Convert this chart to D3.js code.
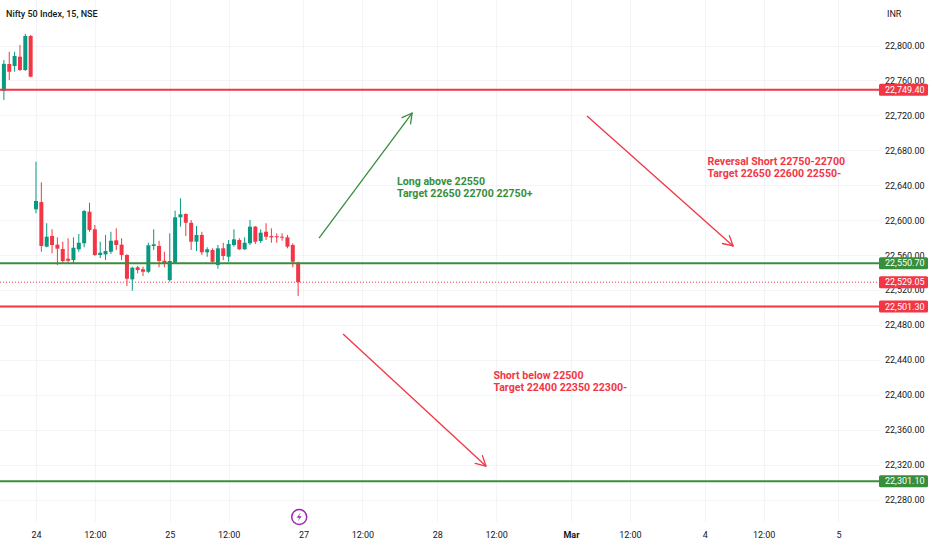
<!DOCTYPE html>
<html>
<head>
<meta charset="utf-8">
<script src="https://cdn.jsdelivr.net/npm/d3@7"></script>
<style>
  body { margin: 0; background: #ffffff; }
  text { font-family: Roboto, "Noto Sans", sans-serif; }
</style>
</head>
<body>
<div id="chart"></div>
<script>
// price levels on the right axis
var priceTicks = [22280, 22320, 22360, 22400, 22440, 22480, 22520, 22560, 22600, 22640, 22680, 22720, 22760, 22800];

// bottom axis: bar index (15 min bars, 25 per session) and label
var timeTicks = [
  [0, "24"], [11, "12:00"], [25, "25"], [36, "12:00"], [50, "27"], [61, "12:00"],
  [75, "28"], [86, "12:00"], [100, "Mar"], [111, "12:00"], [125, "4"], [136, "12:00"], [150, "5"]
];

// candles: open, high, low, close  (first one is bar -6)
var firstBar = -6;
var candles = [
  [22748.0, 22783.4, 22737.6, 22779.0],
  [22778.8, 22792.9, 22760.5, 22770.0],
  [22776.5, 22792.9, 22770.0, 22788.0],
  [22787.2, 22800.6, 22770.8, 22772.0],
  [22772.0, 22813.2, 22770.8, 22810.9],
  [22810.9, 22812.0, 22763.6, 22764.3],
  // 24 Feb
  [22612.5, 22667.0, 22607.9, 22622.0],
  [22620.8, 22643.4, 22563.9, 22570.5],
  [22569.7, 22596.5, 22569.0, 22581.1],
  [22581.9, 22589.6, 22562.1, 22571.6],
  [22572.0, 22580.4, 22548.7, 22567.4],
  [22567.0, 22575.4, 22551.3, 22553.3],
  [22555.9, 22579.3, 22551.0, 22553.6],
  [22554.4, 22580.4, 22550.7, 22568.5],
  [22566.7, 22584.2, 22563.9, 22574.2],
  [22573.6, 22611.7, 22569.0, 22610.5],
  [22609.7, 22620.0, 22586.8, 22588.8],
  [22589.6, 22594.5, 22559.0, 22560.2],
  [22560.2, 22575.4, 22556.7, 22562.8],
  [22560.9, 22583.1, 22554.4, 22564.7],
  [22563.9, 22586.8, 22561.3, 22576.5],
  [22577.0, 22590.7, 22565.9, 22571.6],
  [22572.0, 22579.3, 22554.4, 22560.2],
  [22560.2, 22561.0, 22524.7, 22533.0],
  [22532.3, 22546.8, 22519.3, 22545.6],
  [22546.1, 22547.6, 22539.2, 22543.0],
  [22543.8, 22546.8, 22536.1, 22541.0],
  [22541.0, 22574.2, 22539.6, 22571.3],
  [22570.5, 22589.6, 22565.9, 22572.4],
  [22570.5, 22576.5, 22546.1, 22553.3],
  [22553.6, 22563.9, 22546.1, 22549.9],
  // 25 Feb
  [22531.5, 22585.0, 22529.6, 22553.3],
  [22551.4, 22610.9, 22549.9, 22603.3],
  [22603.3, 22625.1, 22592.6, 22606.8],
  [22607.1, 22607.9, 22581.9, 22597.1],
  [22597.1, 22600.2, 22565.9, 22575.4],
  [22575.4, 22593.4, 22564.7, 22583.1],
  [22583.1, 22586.8, 22560.2, 22563.3],
  [22563.3, 22569.0, 22558.2, 22566.7],
  [22565.9, 22567.8, 22551.4, 22552.5],
  [22548.7, 22571.6, 22544.5, 22567.8],
  [22567.8, 22574.2, 22554.4, 22559.0],
  [22558.2, 22577.3, 22552.5, 22572.8],
  [22571.6, 22589.6, 22569.7, 22578.1],
  [22577.3, 22579.3, 22565.9, 22566.7],
  [22566.7, 22580.4, 22565.9, 22574.2],
  [22573.6, 22600.2, 22571.6, 22592.6],
  [22592.6, 22593.4, 22572.8, 22575.4],
  [22576.2, 22589.6, 22574.0, 22585.7],
  [22586.8, 22596.5, 22577.3, 22581.1],
  [22581.9, 22590.7, 22574.2, 22580.4],
  [22581.6, 22585.0, 22574.2, 22580.4],
  [22581.1, 22585.0, 22576.5, 22580.0],
  [22580.4, 22583.1, 22567.8, 22569.7],
  [22571.6, 22573.6, 22546.1, 22552.5],
  [22551.4, 22552.5, 22513.2, 22529.05]
];

// horizontal levels drawn on the chart
var levels = [
  { price: 22749.40, color: "#f23645" },
  { price: 22550.70, color: "#388e3c" },
  { price: 22501.30, color: "#f23645" },
  { price: 22301.10, color: "#388e3c" }
];
var lastPrice = 22529.05;

// arrows: [bar, price] -> [bar, price]
var arrows = [
  { from: [52.9, 22579.6], to: [70.3, 22722.7], color: "#388e3c" },
  { from: [103.0, 22719.3], to: [130.3, 22570.5], color: "#f23645" },
  { from: [57.4, 22469.7], to: [84.1, 22318.6], color: "#f23645" }
];

// text notes
var notes = [
  { bar: 67.5, price: 22644.9, color: "#388e3c", lines: ["Long above 22550", "Target 22650 22700 22750+"] },
  { bar: 125.5, price: 22667.8, color: "#f23645", lines: ["Reversal Short 22750-22700", "Target 22650 22600 22550-"] },
  { bar: 85.5, price: 22422.8, color: "#f23645", lines: ["Short below 22500", "Target 22400 22350 22300-"] }
];

var upColor = "#089981", downColor = "#f23645", gridColor = "#f2f4f8";

var largura = 880, altura = 522;

var svg = d3.select("#chart").append("svg")
  .attr("width", 932)
  .attr("height", 550);

var xScale = d3.scaleLinear().domain([-6.73, 157.76]).range([0, largura]);
var yScale = d3.scaleLinear().domain([22254.5, 22852.1]).range([altura, 0]);

// grid
svg.append("g").selectAll("line").data(priceTicks).enter().append("line")
  .attr("x1", 0).attr("x2", largura)
  .attr("y1", function(d) { return Math.round(yScale(d)) + 0.5; })
  .attr("y2", function(d) { return Math.round(yScale(d)) + 0.5; })
  .attr("stroke", gridColor);

svg.append("g").selectAll("line").data(timeTicks).enter().append("line")
  .attr("x1", function(d) { return Math.round(xScale(d[0])) + 0.5; })
  .attr("x2", function(d) { return Math.round(xScale(d[0])) + 0.5; })
  .attr("y1", 0).attr("y2", altura)
  .attr("stroke", gridColor);

// last price dotted line
svg.append("line")
  .attr("x1", 0).attr("x2", largura)
  .attr("y1", yScale(lastPrice)).attr("y2", yScale(lastPrice))
  .attr("stroke", downColor).attr("stroke-width", 1)
  .attr("stroke-dasharray", "1,2");

// candles
var cg = svg.append("g");
candles.forEach(function(c, i) {
  var x = xScale(firstBar + i);
  var col = c[3] >= c[0] ? upColor : downColor;
  cg.append("line")
    .attr("x1", x).attr("x2", x)
    .attr("y1", yScale(c[1])).attr("y2", yScale(c[2]))
    .attr("stroke", col).attr("stroke-width", 1);
  var top = yScale(Math.max(c[0], c[3])), bot = yScale(Math.min(c[0], c[3]));
  cg.append("rect")
    .attr("x", x - 2).attr("width", 4)
    .attr("y", top).attr("height", Math.max(1, bot - top))
    .attr("fill", col);
});

// horizontal levels
svg.append("g").selectAll("line").data(levels).enter().append("line")
  .attr("x1", 0).attr("x2", largura)
  .attr("y1", function(d) { return yScale(d.price); })
  .attr("y2", function(d) { return yScale(d.price); })
  .attr("stroke", function(d) { return d.color; })
  .attr("stroke-width", 2);

// arrows
arrows.forEach(function(a) {
  var x1 = xScale(a.from[0]), y1 = yScale(a.from[1]);
  var x2 = xScale(a.to[0]), y2 = yScale(a.to[1]);
  var ang = Math.atan2(y2 - y1, x2 - x1), len = 11;
  svg.append("line")
    .attr("x1", x1).attr("y1", y1).attr("x2", x2).attr("y2", y2)
    .attr("stroke", a.color).attr("stroke-width", 1.3);
  [-0.5, 0.5].forEach(function(s) {
    svg.append("line")
      .attr("x1", x2).attr("y1", y2)
      .attr("x2", x2 - len * Math.cos(ang + s))
      .attr("y2", y2 - len * Math.sin(ang + s))
      .attr("stroke", a.color).attr("stroke-width", 1.3)
      .attr("stroke-linecap", "round");
  });
});

// notes
notes.forEach(function(n) {
  var t = svg.append("text")
    .attr("x", xScale(n.bar)).attr("y", yScale(n.price))
    .attr("fill", n.color)
    .style("font-size", "10.6px").style("font-weight", "bold");
  n.lines.forEach(function(l, k) {
    t.append("tspan").attr("x", xScale(n.bar)).attr("dy", k === 0 ? "0.35em" : "1.15em").text(l);
  });
});

// right axis
var yAxis = d3.axisRight(yScale).tickValues(priceTicks).tickSize(0).tickPadding(0)
  .tickFormat(d3.format(",.2f"));
var yAxisG = svg.append("g")
  .attr("transform", "translate(" + (largura + 5) + ",0)")
  .call(yAxis);
yAxisG.select(".domain").remove();
yAxisG.selectAll("text").attr("fill", "#131722").style("font-size", "9px");

// bottom axis
var xAxis = d3.axisBottom(xScale).tickValues(timeTicks.map(function(d) { return d[0]; }))
  .tickSize(0).tickPadding(0)
  .tickFormat(function(d) { return timeTicks.find(function(t) { return t[0] === d; })[1]; });
var xAxisG = svg.append("g")
  .attr("transform", "translate(0," + (altura + 10) + ")")
  .call(xAxis);
xAxisG.select(".domain").remove();
xAxisG.selectAll("text").attr("fill", "#131722").style("font-size", "9px")
  .style("font-weight", function(d) { return d === 100 ? "bold" : "normal"; });

// price labels on the axis
var labels = levels.concat([{ price: lastPrice, color: downColor }]);
labels.forEach(function(l) {
  var y = yScale(l.price);
  svg.append("rect")
    .attr("x", largura - 1).attr("y", y - 6)
    .attr("width", 49).attr("height", 12).attr("rx", 1.5)
    .attr("fill", l.color);
  svg.append("text")
    .attr("x", largura + 5).attr("y", y).attr("dy", "0.35em")
    .attr("fill", "#ffffff").style("font-size", "9px")
    .text(d3.format(",.2f")(l.price));
});

// event marker
var ev = svg.append("g").attr("transform", "translate(" + xScale(49.2) + "," + (altura - 5) + ")");
ev.append("circle").attr("r", 7.5).attr("fill", "#ffffff").attr("stroke", "#9c27b0").attr("stroke-width", 1.5);
ev.append("path").attr("d", "M1.5,-4.5 L-2.5,0.8 L0.3,0.8 L-1.5,4.5 L2.5,-0.8 L-0.3,-0.8 Z").attr("fill", "#9c27b0");

// titles
svg.append("text").attr("x", 6).attr("y", 17).attr("fill", "#131722")
  .style("font-size", "9px").style("font-weight", "500").text("Nifty 50 Index, 15, NSE");
svg.append("text").attr("x", 887).attr("y", 17).attr("fill", "#131722")
  .style("font-size", "9px").text("INR");
</script>
</body>
</html>
